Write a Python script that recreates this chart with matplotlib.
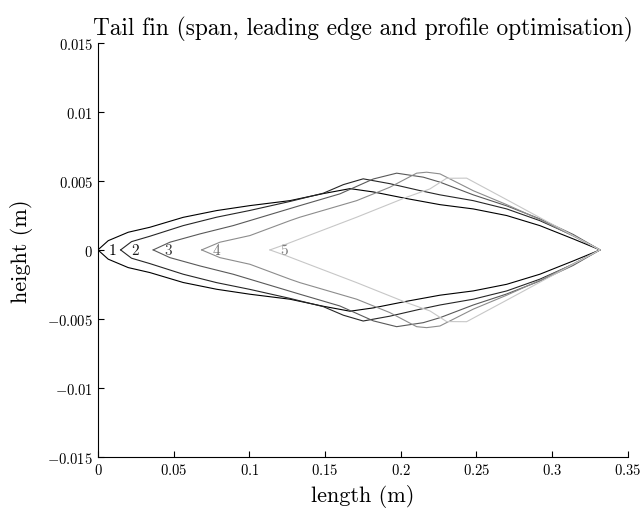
import matplotlib
matplotlib.use("Agg")
import matplotlib.pyplot as plt

# upper half of each fin profile (lower half is the mirror image)
x1 = [0.0, 0.0068, 0.0200, 0.0343, 0.0563, 0.0784, 0.1004, 0.1268, 0.1488, 0.1665,
      0.1819, 0.2039, 0.2259, 0.2479, 0.2700, 0.2919, 0.3139, 0.3316]
y1 = [0.0, 0.00067, 0.00128, 0.00164, 0.00236, 0.00285, 0.00321, 0.00357, 0.00408, 0.00444,
      0.00420, 0.00372, 0.00328, 0.00297, 0.00249, 0.00176, 0.00080, 0.0]

x2 = [0.0150, 0.0222, 0.0343, 0.0563, 0.0784, 0.1004, 0.1268, 0.1489, 0.1621, 0.1752,
      0.1928, 0.2126, 0.2259, 0.2479, 0.2700, 0.2919, 0.3139, 0.3316]
y2 = [0.0, 0.00060, 0.00099, 0.00176, 0.00237, 0.00286, 0.00351, 0.00411, 0.00473, 0.00515,
      0.00480, 0.00430, 0.00399, 0.00357, 0.00297, 0.00212, 0.00104, 0.0]

x3 = [0.0365, 0.0476, 0.0674, 0.0893, 0.1115, 0.1334, 0.1598, 0.1819, 0.1973, 0.2149,
      0.2259, 0.2479, 0.2700, 0.2919, 0.3139, 0.3316]
y3 = [0.0, 0.00056, 0.00116, 0.00176, 0.00249, 0.00321, 0.00406, 0.00514, 0.00556, 0.00527,
      0.00491, 0.00399, 0.00319, 0.00225, 0.00112, 0.0]

x4 = [0.0685, 0.0806, 0.1004, 0.1268, 0.1334, 0.1709, 0.1928, 0.2105, 0.2171, 0.2259,
      0.2479, 0.2700, 0.2919, 0.3139, 0.3316]
y4 = [0.0, 0.00056, 0.00104, 0.00212, 0.00237, 0.00357, 0.00454, 0.00556, 0.00563, 0.00551,
      0.00429, 0.00328, 0.00220, 0.00101, 0.0]

x5 = [0.1136, 0.1246, 0.1334, 0.1709, 0.2039, 0.2193, 0.2303, 0.2435, 0.2700, 0.2919,
      0.3139, 0.3316]
y5 = [0.0, 0.00043, 0.00080, 0.00237, 0.00382, 0.00442, 0.00519, 0.00520, 0.00364, 0.00234,
      0.00104, 0.0]

profiles = [(x1, y1), (x2, y2), (x3, y3), (x4, y4), (x5, y5)]
names = ['1', '2', '3', '4', '5']
line_colors = ['0.0', '0.15', '0.35', '0.55', '0.78']
text_colors = ['0.0', '0.1', '0.25', '0.4', '0.5']

xticks = [0, 0.05, 0.1, 0.15, 0.2, 0.25, 0.3, 0.35]
xtick_labels = ['0', '0.05', '0.1', '0.15', '0.2', '0.25', '0.3', '0.35']
yticks = [-0.015, -0.01, -0.005, 0, 0.005, 0.01, 0.015]
ytick_labels = ['-0.015', '-0.01', '-0.005', '0', '0.005', '0.01', '0.015']

plt.rcParams['font.family'] = 'serif'
plt.rcParams['font.serif'] = ['cmr10']
plt.rcParams['mathtext.fontset'] = 'cm'
plt.rcParams['axes.unicode_minus'] = False

fig = plt.figure(figsize=(6.4, 5.1), dpi=100)
ax = fig.add_axes([0.153, 0.102, 0.828, 0.812])

for (xs, ys), name, lc, tc in zip(profiles, names, line_colors, text_colors):
    ax.plot(xs, ys, color=lc, linewidth=0.8)
    ax.plot(xs, [-v for v in ys], color=lc, linewidth=0.8)
    ax.text(xs[0] + 0.0096, 0, name, color=tc, fontsize=11, ha='center', va='center')

ax.set_xlim(0, 0.35)
ax.set_ylim(-0.015, 0.015)
ax.set_xticks(xticks, labels=['$%s$' % s for s in xtick_labels])
ax.set_yticks(yticks, labels=['$%s$' % s for s in ytick_labels])
ax.tick_params(direction='in', length=4, width=0.8, labelsize=10.5)
ax.spines['top'].set_visible(False)
ax.spines['right'].set_visible(False)

ax.set_xlabel('length (m)', fontsize=16, labelpad=5)
ax.set_ylabel('height (m)', fontsize=16, labelpad=10)
ax.set_title('Tail fin (span, leading edge and profile optimisation)', fontsize=16.8, pad=6)

fig.savefig('out.png', dpi=100)
